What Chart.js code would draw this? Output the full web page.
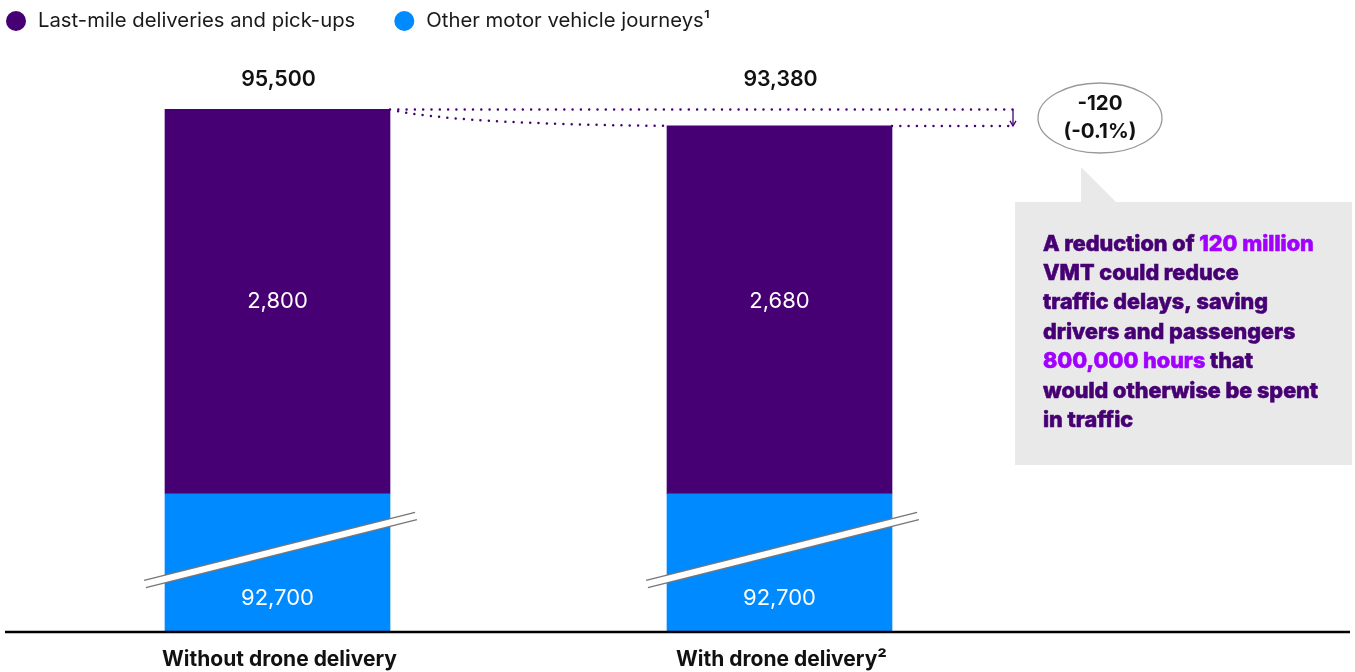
<!DOCTYPE html>
<html>
<head>
<meta charset="utf-8">
<script src="https://cdn.jsdelivr.net/npm/chart.js@4.4.1/dist/chart.umd.min.js"></script>
<style>
  html, body { margin: 0; padding: 0; background: #fff; }
  #wrap { width: 1355px; height: 672px; }
</style>
</head>
<body>
<div id="wrap"><canvas id="chart"></canvas></div>
<script>
"use strict";

// data (million vehicle miles travelled)
var categories = ["Without drone delivery", "With drone delivery²"];
var lastMile = [2800, 2680];
var otherJourneys = [92700, 92700];
var totals = [95500, 93380];
var changeLabel = ["-120", "(-0.1%)"];
var seriesNames = ["Last-mile deliveries and pick-ups", "Other motor vehicle journeys¹"];

// axis is broken: the blue part only shows what is above this value
var axisBreak = 91700;

var PURPLE = "#460073";
var BLUE = "#008AFF";
var MAGENTA = "#A100FF";
var FONT = "Inter, 'Noto Sans', sans-serif";

var callout = [
    [["A reduction of ", PURPLE], ["120 million", MAGENTA]],
    [["VMT could reduce", PURPLE]],
    [["traffic delays, saving", PURPLE]],
    [["drivers and passengers", PURPLE]],
    [["800,000 hours", MAGENTA], [" that", PURPLE]],
    [["would otherwise be spent", PURPLE]],
    [["in traffic", PURPLE]]
];

var shown = otherJourneys.map(function (v) { return v - axisBreak; });

var extras = {
    id: "extras",
    afterDatasetsDraw: function (chart) {
        var ctx = chart.ctx;
        var area = chart.chartArea;
        var top = chart.getDatasetMeta(1).data;
        var bot = chart.getDatasetMeta(0).data;
        ctx.save();

        // legend
        ctx.textBaseline = "middle";
        ctx.font = "20.3px " + FONT;
        var lx = 16;
        [[seriesNames[0], PURPLE], [seriesNames[1], BLUE]].forEach(function (it, i) {
            ctx.fillStyle = it[1];
            ctx.beginPath();
            ctx.arc(lx, 21, 10, 0, Math.PI * 2);
            ctx.fill();
            ctx.fillStyle = "#1a1a1a";
            ctx.textAlign = "left";
            ctx.fillText(it[0], lx + 22, 21);
            lx += 22 + ctx.measureText(it[0]).width + 49;
        });

        // baseline
        ctx.strokeStyle = "#000";
        ctx.lineWidth = 2.5;
        ctx.beginPath();
        ctx.moveTo(5, area.bottom + 1);
        ctx.lineTo(1350, area.bottom + 1);
        ctx.stroke();

        // labels in and above the bars
        ctx.textAlign = "center";
        var midY = (top[0].y + top[0].base) / 2;
        top.forEach(function (b, i) {
            ctx.fillStyle = "#fff";
            ctx.font = "22px " + FONT;
            ctx.fillText(lastMile[i].toLocaleString("en-US"), b.x, midY);
            ctx.fillText(otherJourneys[i].toLocaleString("en-US"), b.x, bot[i].base - 33);
            ctx.fillStyle = "#111";
            ctx.font = "600 21.3px " + FONT;
            ctx.fillText(totals[i].toLocaleString("en-US"), b.x + 1, 80);
            ctx.font = "bold 21px " + FONT;
            ctx.fillText(categories[i], b.x + 2, 660);
        });

        // axis break marks
        bot.forEach(function (b) {
            var x1 = b.x - b.width / 2 - 20, x2 = b.x + b.width / 2 + 26;
            var y1 = b.base - 47, y2 = b.base - 115;
            ctx.strokeStyle = "#777";
            ctx.lineWidth = 9;
            ctx.beginPath();
            ctx.moveTo(x1, y1);
            ctx.lineTo(x2, y2);
            ctx.stroke();
            ctx.strokeStyle = "#fff";
            ctx.lineWidth = 6;
            ctx.beginPath();
            ctx.moveTo(x1 - 2, y1 + 0.5);
            ctx.lineTo(x2 + 2, y2 - 0.5);
            ctx.stroke();
        });

        // dotted connector lines
        var a = top[0], c = top[1];
        var endX = 1013;
        ctx.strokeStyle = PURPLE;
        ctx.lineWidth = 2.5;
        ctx.lineCap = "round";
        ctx.setLineDash([0, 8.3]);
        ctx.beginPath();
        ctx.moveTo(a.x + a.width / 2, a.y);
        ctx.lineTo(endX, a.y);
        ctx.moveTo(a.x + a.width / 2, a.y);
        ctx.quadraticCurveTo(a.x + a.width / 2 + 60, c.y - 2, c.x - c.width / 2, c.y);
        ctx.moveTo(c.x + c.width / 2, c.y);
        ctx.lineTo(endX, c.y);
        ctx.stroke();
        ctx.setLineDash([]);
        ctx.lineCap = "butt";
        ctx.lineWidth = 1.3;
        ctx.beginPath();
        ctx.moveTo(endX, a.y);
        ctx.lineTo(endX, c.y - 1);
        ctx.stroke();
        ctx.beginPath();
        ctx.moveTo(endX - 3, c.y - 5);
        ctx.lineTo(endX, c.y);
        ctx.lineTo(endX + 3, c.y - 5);
        ctx.stroke();

        // ellipse with the change
        ctx.strokeStyle = "#9a9a95";
        ctx.lineWidth = 1.3;
        ctx.beginPath();
        ctx.ellipse(1100, 118, 62, 35, 0, 0, Math.PI * 2);
        ctx.stroke();
        ctx.fillStyle = "#111";
        ctx.font = "bold 20.5px " + FONT;
        ctx.fillText(changeLabel[0], 1100, 104);
        ctx.fillText(changeLabel[1], 1100, 132);

        // callout box
        ctx.fillStyle = "#E9E9EA";
        ctx.beginPath();
        ctx.moveTo(1015, 202);
        ctx.lineTo(1081, 202);
        ctx.lineTo(1081, 167);
        ctx.lineTo(1116, 202);
        ctx.lineTo(1352, 202);
        ctx.lineTo(1352, 465);
        ctx.lineTo(1015, 465);
        ctx.closePath();
        ctx.fill();

        ctx.textAlign = "left";
        ctx.font = "800 21.6px " + FONT;
        ctx.lineWidth = 0.6;
        callout.forEach(function (line, i) {
            var x = 1043;
            line.forEach(function (part) {
                ctx.fillStyle = part[1];
                ctx.strokeStyle = part[1];
                ctx.fillText(part[0], x, 244 + i * 29.4);
                ctx.strokeText(part[0], x, 244 + i * 29.4);
                x += ctx.measureText(part[0]).width;
            });
        });
        ctx.restore();
    }
};

new Chart(document.getElementById("chart"), {
    type: "bar",
    data: {
        labels: categories,
        datasets: [
            { label: seriesNames[1], data: shown, backgroundColor: BLUE, barThickness: 225 },
            { label: seriesNames[0], data: lastMile, backgroundColor: PURPLE, barThickness: 225 }
        ]
    },
    options: {
        responsive: true,
        maintainAspectRatio: false,
        animation: false,
        events: [],
        layout: { padding: { top: 60, left: 26.5, right: 324.5, bottom: 41 } },
        scales: {
            x: { stacked: true, display: false },
            y: { stacked: true, display: false, min: 0, max: 4160 }
        },
        plugins: {
            legend: { display: false },
            tooltip: { enabled: false }
        }
    },
    plugins: [extras]
});
</script>
</body>
</html>
